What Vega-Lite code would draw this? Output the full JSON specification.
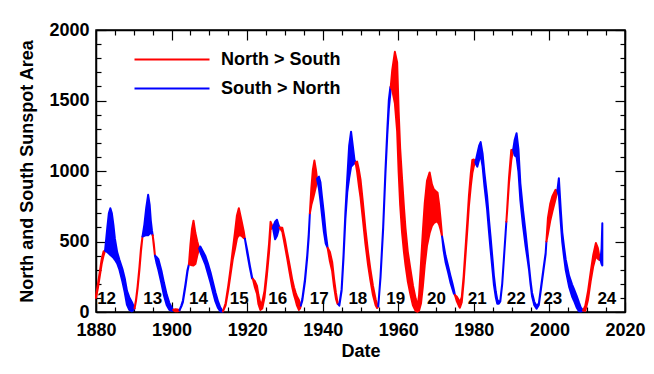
{
  "$schema": "https://vega.github.io/schema/vega-lite/v6.json",
  "width": 529,
  "height": 282,
  "autosize": "none",
  "padding": {"left": 96, "top": 30, "right": 29, "bottom": 62},
  "background": "white",
  "config": {
    "view": {"stroke": "black", "strokeWidth": 1.5},
    "axis": {
      "grid": false,
      "domainColor": "black",
      "domainWidth": 1.5,
      "tickColor": "black",
      "tickWidth": 1.2,
      "labelFont": "Liberation Sans",
      "labelFontWeight": "bold",
      "labelFontSize": 18,
      "labelColor": "black",
      "titleFont": "Liberation Sans",
      "titleFontWeight": "bold",
      "titleFontSize": 18,
      "titleColor": "black",
      "labelFlush": false,
      "labelOverlap": false
    },
    "legend": {
      "symbolType": "stroke", "symbolSize": 5625, "symbolStrokeWidth": 2.2,
      "labelFont": "Liberation Sans", "labelFontWeight": "bold", "labelFontSize": 18,
      "labelColor": "black", "labelOffset": 10, "clipHeight": 29
    }
  },
  "datasets": {
    "cycles": [
      {"cycle": "12", "t": 1882.8, "v": 92},
      {"cycle": "13", "t": 1895.0, "v": 92},
      {"cycle": "14", "t": 1907.1, "v": 92},
      {"cycle": "15", "t": 1917.9, "v": 92},
      {"cycle": "16", "t": 1928.1, "v": 92},
      {"cycle": "17", "t": 1939.1, "v": 92},
      {"cycle": "18", "t": 1949.3, "v": 92},
      {"cycle": "19", "t": 1959.3, "v": 92},
      {"cycle": "20", "t": 1970.1, "v": 92},
      {"cycle": "21", "t": 1980.9, "v": 92},
      {"cycle": "22", "t": 1991.2, "v": 92},
      {"cycle": "23", "t": 2000.9, "v": 92},
      {"cycle": "24", "t": 2015.2, "v": 92}
    ],
    "areas": [
      {"t":1880.0,"N":115,"S":100,"seg":1,"dom":"North > South"},
      {"t":1880.5,"N":195,"S":170,"seg":1,"dom":"North > South"},
      {"t":1881.0,"N":285,"S":255,"seg":1,"dom":"North > South"},
      {"t":1881.5,"N":375,"S":340,"seg":1,"dom":"North > South"},
      {"t":1882.0,"N":430,"S":400,"seg":1,"dom":"North > South"},
      {"t":1882.4,"N":435,"S":435,"seg":1,"dom":"North > South"},

      {"t":1882.4,"N":435,"S":435,"seg":2,"dom":"South > North"},
      {"t":1883.0,"N":425,"S":600,"seg":2,"dom":"South > North"},
      {"t":1883.4,"N":415,"S":700,"seg":2,"dom":"South > North"},
      {"t":1883.8,"N":405,"S":736,"seg":2,"dom":"South > North"},
      {"t":1884.2,"N":395,"S":700,"seg":2,"dom":"South > North"},
      {"t":1884.6,"N":385,"S":620,"seg":2,"dom":"South > North"},
      {"t":1885.0,"N":370,"S":520,"seg":2,"dom":"South > North"},
      {"t":1885.6,"N":345,"S":425,"seg":2,"dom":"South > North"},
      {"t":1886.2,"N":300,"S":370,"seg":2,"dom":"South > North"},
      {"t":1887.0,"N":215,"S":305,"seg":2,"dom":"South > North"},
      {"t":1887.6,"N":140,"S":240,"seg":2,"dom":"South > North"},
      {"t":1888.2,"N":50,"S":150,"seg":2,"dom":"South > North"},
      {"t":1888.8,"N":15,"S":105,"seg":2,"dom":"South > North"},
      {"t":1889.5,"N":5,"S":70,"seg":2,"dom":"South > North"},
      {"t":1890.0,"N":18,"S":38,"seg":2,"dom":"South > North"},
      {"t":1890.2,"N":25,"S":25,"seg":2,"dom":"South > North"},

      {"t":1890.2,"N":25,"S":25,"seg":3,"dom":"North > South"},
      {"t":1890.6,"N":90,"S":80,"seg":3,"dom":"North > South"},
      {"t":1891.0,"N":180,"S":165,"seg":3,"dom":"North > South"},
      {"t":1891.5,"N":320,"S":300,"seg":3,"dom":"North > South"},
      {"t":1891.9,"N":450,"S":430,"seg":3,"dom":"North > South"},
      {"t":1892.3,"N":535,"S":535,"seg":3,"dom":"North > South"},

      {"t":1892.3,"N":535,"S":535,"seg":4,"dom":"South > North"},
      {"t":1892.8,"N":540,"S":620,"seg":4,"dom":"South > North"},
      {"t":1893.3,"N":545,"S":740,"seg":4,"dom":"South > North"},
      {"t":1893.8,"N":545,"S":831,"seg":4,"dom":"South > North"},
      {"t":1894.2,"N":555,"S":760,"seg":4,"dom":"South > North"},
      {"t":1894.5,"N":560,"S":650,"seg":4,"dom":"South > North"},
      {"t":1894.8,"N":555,"S":580,"seg":4,"dom":"South > North"},
      {"t":1895.0,"N":545,"S":545,"seg":4,"dom":"South > North"},

      {"t":1895.0,"N":545,"S":545,"seg":5,"dom":"North > South"},
      {"t":1895.3,"N":485,"S":470,"seg":5,"dom":"North > South"},
      {"t":1895.6,"N":400,"S":400,"seg":5,"dom":"North > South"},

      {"t":1895.6,"N":400,"S":400,"seg":6,"dom":"South > North"},
      {"t":1896.0,"N":350,"S":390,"seg":6,"dom":"South > North"},
      {"t":1896.5,"N":300,"S":375,"seg":6,"dom":"South > North"},
      {"t":1897.3,"N":205,"S":295,"seg":6,"dom":"South > North"},
      {"t":1898.0,"N":115,"S":205,"seg":6,"dom":"South > North"},
      {"t":1898.7,"N":50,"S":125,"seg":6,"dom":"South > North"},
      {"t":1899.4,"N":15,"S":65,"seg":6,"dom":"South > North"},
      {"t":1900.1,"N":8,"S":28,"seg":6,"dom":"South > North"},
      {"t":1900.4,"N":15,"S":15,"seg":6,"dom":"South > North"},

      {"t":1900.4,"N":15,"S":15,"seg":7,"dom":"North > South"},
      {"t":1901.0,"N":20,"S":5,"seg":7,"dom":"North > South"},
      {"t":1901.6,"N":18,"S":5,"seg":7,"dom":"North > South"},
      {"t":1902.1,"N":12,"S":12,"seg":7,"dom":"North > South"},

      {"t":1902.1,"N":12,"S":12,"seg":8,"dom":"South > North"},
      {"t":1902.6,"N":40,"S":48,"seg":8,"dom":"South > North"},
      {"t":1903.0,"N":70,"S":82,"seg":8,"dom":"South > North"},
      {"t":1903.7,"N":188,"S":202,"seg":8,"dom":"South > North"},
      {"t":1904.2,"N":285,"S":297,"seg":8,"dom":"South > North"},
      {"t":1904.6,"N":340,"S":340,"seg":8,"dom":"South > North"},

      {"t":1904.6,"N":340,"S":340,"seg":9,"dom":"North > South"},
      {"t":1905.0,"N":480,"S":335,"seg":9,"dom":"North > South"},
      {"t":1905.4,"N":590,"S":332,"seg":9,"dom":"North > South"},
      {"t":1905.8,"N":647,"S":330,"seg":9,"dom":"North > South"},
      {"t":1906.3,"N":560,"S":340,"seg":9,"dom":"North > South"},
      {"t":1906.8,"N":500,"S":400,"seg":9,"dom":"North > South"},
      {"t":1907.3,"N":450,"S":450,"seg":9,"dom":"North > South"},

      {"t":1907.3,"N":450,"S":450,"seg":10,"dom":"South > North"},
      {"t":1907.6,"N":425,"S":465,"seg":10,"dom":"South > North"},
      {"t":1908.2,"N":385,"S":435,"seg":10,"dom":"South > North"},
      {"t":1908.9,"N":340,"S":400,"seg":10,"dom":"South > North"},
      {"t":1909.6,"N":275,"S":345,"seg":10,"dom":"South > North"},
      {"t":1910.3,"N":210,"S":282,"seg":10,"dom":"South > North"},
      {"t":1911.0,"N":135,"S":205,"seg":10,"dom":"South > North"},
      {"t":1911.6,"N":75,"S":140,"seg":10,"dom":"South > North"},
      {"t":1912.3,"N":28,"S":75,"seg":10,"dom":"South > North"},
      {"t":1912.9,"N":4,"S":32,"seg":10,"dom":"South > North"},
      {"t":1913.4,"N":3,"S":10,"seg":10,"dom":"South > North"},
      {"t":1913.6,"N":5,"S":5,"seg":10,"dom":"South > North"},

      {"t":1913.6,"N":5,"S":5,"seg":11,"dom":"North > South"},
      {"t":1914.3,"N":62,"S":48,"seg":11,"dom":"North > South"},
      {"t":1915.0,"N":185,"S":155,"seg":11,"dom":"North > South"},
      {"t":1915.6,"N":305,"S":265,"seg":11,"dom":"North > South"},
      {"t":1916.2,"N":440,"S":375,"seg":11,"dom":"North > South"},
      {"t":1916.8,"N":570,"S":450,"seg":11,"dom":"North > South"},
      {"t":1917.3,"N":685,"S":520,"seg":11,"dom":"North > South"},
      {"t":1917.8,"N":736,"S":547,"seg":11,"dom":"North > South"},
      {"t":1918.5,"N":650,"S":540,"seg":11,"dom":"North > South"},
      {"t":1919.1,"N":571,"S":524,"seg":11,"dom":"North > South"},
      {"t":1919.4,"N":520,"S":520,"seg":11,"dom":"North > South"},

      {"t":1919.4,"N":520,"S":520,"seg":12,"dom":"South > North"},
      {"t":1920.0,"N":420,"S":440,"seg":12,"dom":"South > North"},
      {"t":1920.7,"N":315,"S":332,"seg":12,"dom":"South > North"},
      {"t":1921.3,"N":238,"S":247,"seg":12,"dom":"South > North"},
      {"t":1921.5,"N":235,"S":235,"seg":12,"dom":"South > North"},

      {"t":1921.5,"N":235,"S":235,"seg":13,"dom":"North > South"},
      {"t":1922.0,"N":220,"S":180,"seg":13,"dom":"North > South"},
      {"t":1922.6,"N":185,"S":130,"seg":13,"dom":"North > South"},
      {"t":1923.0,"N":120,"S":55,"seg":13,"dom":"North > South"},
      {"t":1923.5,"N":60,"S":15,"seg":13,"dom":"North > South"},
      {"t":1924.0,"N":70,"S":25,"seg":13,"dom":"North > South"},
      {"t":1924.6,"N":150,"S":105,"seg":13,"dom":"North > South"},
      {"t":1925.2,"N":305,"S":255,"seg":13,"dom":"North > South"},
      {"t":1925.8,"N":485,"S":425,"seg":13,"dom":"North > South"},
      {"t":1926.2,"N":640,"S":585,"seg":13,"dom":"North > South"},
      {"t":1926.8,"N":600,"S":600,"seg":13,"dom":"North > South"},

      {"t":1926.8,"N":600,"S":600,"seg":14,"dom":"South > North"},
      {"t":1927.4,"N":515,"S":640,"seg":14,"dom":"South > North"},
      {"t":1927.9,"N":540,"S":654,"seg":14,"dom":"South > North"},
      {"t":1928.4,"N":590,"S":610,"seg":14,"dom":"South > North"},
      {"t":1928.6,"N":600,"S":600,"seg":14,"dom":"South > North"},

      {"t":1928.6,"N":600,"S":600,"seg":15,"dom":"North > South"},
      {"t":1929.3,"N":598,"S":570,"seg":15,"dom":"North > South"},
      {"t":1930.0,"N":515,"S":470,"seg":15,"dom":"North > South"},
      {"t":1930.6,"N":425,"S":380,"seg":15,"dom":"North > South"},
      {"t":1931.3,"N":325,"S":270,"seg":15,"dom":"North > South"},
      {"t":1931.9,"N":235,"S":180,"seg":15,"dom":"North > South"},
      {"t":1932.4,"N":175,"S":120,"seg":15,"dom":"North > South"},
      {"t":1932.8,"N":140,"S":85,"seg":15,"dom":"North > South"},
      {"t":1933.2,"N":110,"S":45,"seg":15,"dom":"North > South"},
      {"t":1933.7,"N":85,"S":15,"seg":15,"dom":"North > South"},
      {"t":1934.0,"N":60,"S":25,"seg":15,"dom":"North > South"},
      {"t":1934.2,"N":45,"S":45,"seg":15,"dom":"North > South"},

      {"t":1934.2,"N":45,"S":45,"seg":16,"dom":"South > North"},
      {"t":1934.6,"N":80,"S":92,"seg":16,"dom":"South > North"},
      {"t":1935.3,"N":215,"S":232,"seg":16,"dom":"South > North"},
      {"t":1935.9,"N":385,"S":402,"seg":16,"dom":"South > North"},
      {"t":1936.3,"N":530,"S":552,"seg":16,"dom":"South > North"},
      {"t":1936.6,"N":700,"S":700,"seg":16,"dom":"South > North"},

      {"t":1936.6,"N":700,"S":700,"seg":17,"dom":"North > South"},
      {"t":1937.0,"N":880,"S":760,"seg":17,"dom":"North > South"},
      {"t":1937.4,"N":1010,"S":800,"seg":17,"dom":"North > South"},
      {"t":1937.8,"N":1074,"S":843,"seg":17,"dom":"North > South"},
      {"t":1938.2,"N":1010,"S":890,"seg":17,"dom":"North > South"},
      {"t":1938.5,"N":945,"S":945,"seg":17,"dom":"North > South"},

      {"t":1938.5,"N":945,"S":945,"seg":18,"dom":"South > North"},
      {"t":1939.0,"N":875,"S":960,"seg":18,"dom":"South > North"},
      {"t":1939.4,"N":790,"S":920,"seg":18,"dom":"South > North"},
      {"t":1939.8,"N":690,"S":819,"seg":18,"dom":"South > North"},
      {"t":1940.3,"N":570,"S":700,"seg":18,"dom":"South > North"},
      {"t":1940.8,"N":485,"S":560,"seg":18,"dom":"South > North"},
      {"t":1941.3,"N":455,"S":455,"seg":18,"dom":"South > North"},

      {"t":1941.3,"N":455,"S":455,"seg":19,"dom":"North > South"},
      {"t":1941.9,"N":425,"S":360,"seg":19,"dom":"North > South"},
      {"t":1942.5,"N":355,"S":290,"seg":19,"dom":"North > South"},
      {"t":1943.0,"N":235,"S":180,"seg":19,"dom":"North > South"},
      {"t":1943.5,"N":135,"S":95,"seg":19,"dom":"North > South"},
      {"t":1943.9,"N":72,"S":58,"seg":19,"dom":"North > South"},
      {"t":1944.1,"N":55,"S":55,"seg":19,"dom":"North > South"},

      {"t":1944.1,"N":55,"S":55,"seg":20,"dom":"South > North"},
      {"t":1944.4,"N":45,"S":52,"seg":20,"dom":"South > North"},
      {"t":1945.0,"N":150,"S":162,"seg":20,"dom":"South > North"},
      {"t":1945.5,"N":380,"S":402,"seg":20,"dom":"South > North"},
      {"t":1946.0,"N":660,"S":705,"seg":20,"dom":"South > North"},
      {"t":1946.5,"N":850,"S":950,"seg":20,"dom":"South > North"},
      {"t":1947.0,"N":950,"S":1180,"seg":20,"dom":"South > North"},
      {"t":1947.5,"N":1030,"S":1279,"seg":20,"dom":"South > North"},
      {"t":1948.0,"N":1045,"S":1170,"seg":20,"dom":"South > North"},
      {"t":1948.4,"N":1055,"S":1080,"seg":20,"dom":"South > North"},
      {"t":1948.7,"N":1060,"S":1060,"seg":20,"dom":"South > North"},

      {"t":1948.7,"N":1060,"S":1060,"seg":21,"dom":"North > South"},
      {"t":1949.1,"N":1067,"S":995,"seg":21,"dom":"North > South"},
      {"t":1949.6,"N":1005,"S":890,"seg":21,"dom":"North > South"},
      {"t":1950.0,"N":940,"S":815,"seg":21,"dom":"North > South"},
      {"t":1950.6,"N":785,"S":665,"seg":21,"dom":"North > South"},
      {"t":1951.3,"N":590,"S":485,"seg":21,"dom":"North > South"},
      {"t":1952.0,"N":425,"S":335,"seg":21,"dom":"North > South"},
      {"t":1952.6,"N":305,"S":228,"seg":21,"dom":"North > South"},
      {"t":1953.3,"N":185,"S":120,"seg":21,"dom":"North > South"},
      {"t":1954.0,"N":90,"S":48,"seg":21,"dom":"North > South"},
      {"t":1954.4,"N":55,"S":28,"seg":21,"dom":"North > South"},
      {"t":1954.7,"N":40,"S":40,"seg":21,"dom":"North > South"},

      {"t":1954.7,"N":40,"S":40,"seg":22,"dom":"South > North"},
      {"t":1955.3,"N":245,"S":255,"seg":22,"dom":"South > North"},
      {"t":1956.0,"N":590,"S":605,"seg":22,"dom":"South > North"},
      {"t":1956.6,"N":980,"S":1005,"seg":22,"dom":"South > North"},
      {"t":1957.1,"N":1260,"S":1295,"seg":22,"dom":"South > North"},
      {"t":1957.5,"N":1440,"S":1505,"seg":22,"dom":"South > North"},
      {"t":1957.9,"N":1550,"S":1595,"seg":22,"dom":"South > North"},
      {"t":1958.0,"N":1595,"S":1595,"seg":22,"dom":"South > North"},

      {"t":1958.0,"N":1595,"S":1595,"seg":23,"dom":"North > South"},
      {"t":1958.4,"N":1716,"S":1574,"seg":23,"dom":"North > South"},
      {"t":1959.1,"N":1845,"S":1480,"seg":23,"dom":"North > South"},
      {"t":1959.7,"N":1770,"S":1280,"seg":23,"dom":"North > South"},
      {"t":1960.1,"N":1420,"S":990,"seg":23,"dom":"North > South"},
      {"t":1960.5,"N":1160,"S":760,"seg":23,"dom":"North > South"},
      {"t":1961.0,"N":945,"S":565,"seg":23,"dom":"North > South"},
      {"t":1961.5,"N":740,"S":425,"seg":23,"dom":"North > South"},
      {"t":1961.9,"N":595,"S":335,"seg":23,"dom":"North > South"},
      {"t":1962.5,"N":430,"S":220,"seg":23,"dom":"North > South"},
      {"t":1963.2,"N":305,"S":125,"seg":23,"dom":"North > South"},
      {"t":1963.9,"N":185,"S":45,"seg":23,"dom":"North > South"},
      {"t":1964.6,"N":95,"S":6,"seg":23,"dom":"North > South"},
      {"t":1965.1,"N":40,"S":2,"seg":23,"dom":"North > South"},
      {"t":1965.5,"N":120,"S":10,"seg":23,"dom":"North > South"},
      {"t":1966.0,"N":340,"S":60,"seg":23,"dom":"North > South"},
      {"t":1966.5,"N":570,"S":180,"seg":23,"dom":"North > South"},
      {"t":1967.0,"N":770,"S":330,"seg":23,"dom":"North > South"},
      {"t":1967.6,"N":930,"S":470,"seg":23,"dom":"North > South"},
      {"t":1968.3,"N":990,"S":560,"seg":23,"dom":"North > South"},
      {"t":1968.9,"N":905,"S":610,"seg":23,"dom":"North > South"},
      {"t":1969.4,"N":870,"S":630,"seg":23,"dom":"North > South"},
      {"t":1970.0,"N":855,"S":640,"seg":23,"dom":"North > South"},
      {"t":1970.4,"N":845,"S":640,"seg":23,"dom":"North > South"},
      {"t":1970.8,"N":765,"S":620,"seg":23,"dom":"North > South"},
      {"t":1971.2,"N":655,"S":583,"seg":23,"dom":"North > South"},
      {"t":1971.6,"N":535,"S":535,"seg":23,"dom":"North > South"},

      {"t":1971.6,"N":535,"S":535,"seg":24,"dom":"South > North"},
      {"t":1972.0,"N":435,"S":475,"seg":24,"dom":"South > North"},
      {"t":1972.5,"N":355,"S":400,"seg":24,"dom":"South > North"},
      {"t":1973.2,"N":280,"S":325,"seg":24,"dom":"South > North"},
      {"t":1973.8,"N":210,"S":257,"seg":24,"dom":"South > North"},
      {"t":1974.3,"N":165,"S":205,"seg":24,"dom":"South > North"},
      {"t":1974.7,"N":132,"S":160,"seg":24,"dom":"South > North"},
      {"t":1975.0,"N":120,"S":120,"seg":24,"dom":"South > North"},

      {"t":1975.0,"N":120,"S":120,"seg":25,"dom":"North > South"},
      {"t":1975.5,"N":108,"S":75,"seg":25,"dom":"North > South"},
      {"t":1976.0,"N":85,"S":45,"seg":25,"dom":"North > South"},
      {"t":1976.3,"N":68,"S":30,"seg":25,"dom":"North > South"},
      {"t":1976.8,"N":105,"S":70,"seg":25,"dom":"North > South"},
      {"t":1977.3,"N":255,"S":215,"seg":25,"dom":"North > South"},
      {"t":1977.8,"N":455,"S":405,"seg":25,"dom":"North > South"},
      {"t":1978.3,"N":655,"S":595,"seg":25,"dom":"North > South"},
      {"t":1978.7,"N":825,"S":755,"seg":25,"dom":"North > South"},
      {"t":1979.2,"N":985,"S":895,"seg":25,"dom":"North > South"},
      {"t":1979.6,"N":1079,"S":985,"seg":25,"dom":"North > South"},
      {"t":1980.0,"N":1082,"S":1035,"seg":25,"dom":"North > South"},
      {"t":1980.4,"N":1060,"S":1060,"seg":25,"dom":"North > South"},

      {"t":1980.4,"N":1060,"S":1060,"seg":26,"dom":"South > North"},
      {"t":1980.9,"N":1031,"S":1120,"seg":26,"dom":"South > North"},
      {"t":1981.4,"N":1080,"S":1180,"seg":26,"dom":"South > North"},
      {"t":1981.8,"N":1115,"S":1205,"seg":26,"dom":"South > North"},
      {"t":1982.3,"N":1035,"S":1125,"seg":26,"dom":"South > North"},
      {"t":1982.8,"N":895,"S":985,"seg":26,"dom":"South > North"},
      {"t":1983.5,"N":730,"S":822,"seg":26,"dom":"South > North"},
      {"t":1984.0,"N":570,"S":655,"seg":26,"dom":"South > North"},
      {"t":1984.4,"N":450,"S":540,"seg":26,"dom":"South > North"},
      {"t":1985.0,"N":280,"S":355,"seg":26,"dom":"South > North"},
      {"t":1985.3,"N":195,"S":258,"seg":26,"dom":"South > North"},
      {"t":1985.8,"N":105,"S":145,"seg":26,"dom":"South > North"},
      {"t":1986.2,"N":58,"S":88,"seg":26,"dom":"South > North"},
      {"t":1986.6,"N":58,"S":70,"seg":26,"dom":"South > North"},
      {"t":1987.0,"N":75,"S":82,"seg":26,"dom":"South > North"},
      {"t":1987.5,"N":195,"S":202,"seg":26,"dom":"South > North"},
      {"t":1988.0,"N":395,"S":402,"seg":26,"dom":"South > North"},
      {"t":1988.4,"N":555,"S":562,"seg":26,"dom":"South > North"},
      {"t":1988.6,"N":640,"S":640,"seg":26,"dom":"South > North"},

      {"t":1988.6,"N":640,"S":640,"seg":27,"dom":"North > South"},
      {"t":1988.8,"N":724,"S":712,"seg":27,"dom":"North > South"},
      {"t":1989.3,"N":950,"S":915,"seg":27,"dom":"North > South"},
      {"t":1989.9,"N":1149,"S":1075,"seg":27,"dom":"North > South"},
      {"t":1990.3,"N":1150,"S":1140,"seg":27,"dom":"North > South"},
      {"t":1990.4,"N":1150,"S":1150,"seg":27,"dom":"North > South"},

      {"t":1990.4,"N":1150,"S":1150,"seg":28,"dom":"South > North"},
      {"t":1990.8,"N":1110,"S":1220,"seg":28,"dom":"South > North"},
      {"t":1991.3,"N":1100,"S":1268,"seg":28,"dom":"South > North"},
      {"t":1991.8,"N":995,"S":1155,"seg":28,"dom":"South > North"},
      {"t":1992.3,"N":795,"S":915,"seg":28,"dom":"South > North"},
      {"t":1993.0,"N":615,"S":725,"seg":28,"dom":"South > North"},
      {"t":1993.7,"N":465,"S":562,"seg":28,"dom":"South > North"},
      {"t":1994.2,"N":375,"S":432,"seg":28,"dom":"South > North"},
      {"t":1994.6,"N":298,"S":325,"seg":28,"dom":"South > North"},
      {"t":1995.0,"N":198,"S":222,"seg":28,"dom":"South > North"},
      {"t":1995.4,"N":112,"S":137,"seg":28,"dom":"South > North"},
      {"t":1996.0,"N":48,"S":72,"seg":28,"dom":"South > North"},
      {"t":1996.6,"N":24,"S":42,"seg":28,"dom":"South > North"},
      {"t":1997.2,"N":50,"S":62,"seg":28,"dom":"South > North"},
      {"t":1997.8,"N":170,"S":182,"seg":28,"dom":"South > North"},
      {"t":1998.4,"N":290,"S":302,"seg":28,"dom":"South > North"},
      {"t":1999.0,"N":410,"S":420,"seg":28,"dom":"South > North"},
      {"t":1999.2,"N":500,"S":500,"seg":28,"dom":"South > North"},

      {"t":1999.2,"N":500,"S":500,"seg":29,"dom":"North > South"},
      {"t":1999.6,"N":665,"S":555,"seg":29,"dom":"North > South"},
      {"t":2000.2,"N":765,"S":645,"seg":29,"dom":"North > South"},
      {"t":2000.8,"N":822,"S":715,"seg":29,"dom":"North > South"},
      {"t":2001.6,"N":866,"S":800,"seg":29,"dom":"North > South"},
      {"t":2002.0,"N":860,"S":848,"seg":29,"dom":"North > South"},
      {"t":2002.1,"N":860,"S":860,"seg":29,"dom":"North > South"},

      {"t":2002.1,"N":860,"S":860,"seg":30,"dom":"South > North"},
      {"t":2002.5,"N":825,"S":949,"seg":30,"dom":"South > North"},
      {"t":2003.0,"N":635,"S":725,"seg":30,"dom":"South > North"},
      {"t":2003.4,"N":495,"S":565,"seg":30,"dom":"South > North"},
      {"t":2003.9,"N":382,"S":455,"seg":30,"dom":"South > North"},
      {"t":2004.3,"N":300,"S":375,"seg":30,"dom":"South > North"},
      {"t":2005.2,"N":180,"S":258,"seg":30,"dom":"South > North"},
      {"t":2006.0,"N":110,"S":195,"seg":30,"dom":"South > North"},
      {"t":2006.5,"N":80,"S":162,"seg":30,"dom":"South > North"},
      {"t":2007.2,"N":32,"S":115,"seg":30,"dom":"South > North"},
      {"t":2007.8,"N":6,"S":68,"seg":30,"dom":"South > North"},
      {"t":2008.3,"N":3,"S":32,"seg":30,"dom":"South > North"},
      {"t":2008.7,"N":6,"S":18,"seg":30,"dom":"South > North"},
      {"t":2008.9,"N":10,"S":10,"seg":30,"dom":"South > North"},

      {"t":2008.9,"N":10,"S":10,"seg":31,"dom":"North > South"},
      {"t":2009.5,"N":45,"S":8,"seg":31,"dom":"North > South"},
      {"t":2010.2,"N":145,"S":85,"seg":31,"dom":"North > South"},
      {"t":2010.9,"N":280,"S":215,"seg":31,"dom":"North > South"},
      {"t":2011.6,"N":405,"S":325,"seg":31,"dom":"North > South"},
      {"t":2012.3,"N":489,"S":395,"seg":31,"dom":"North > South"},
      {"t":2012.8,"N":455,"S":378,"seg":31,"dom":"North > South"},
      {"t":2013.3,"N":382,"S":368,"seg":31,"dom":"North > South"},
      {"t":2013.5,"N":370,"S":370,"seg":31,"dom":"North > South"},

      {"t":2013.5,"N":370,"S":370,"seg":32,"dom":"South > North"},
      {"t":2013.8,"N":340,"S":450,"seg":32,"dom":"South > North"},
      {"t":2014.0,"N":330,"S":630,"seg":32,"dom":"South > North"}
    ]
  },
  "layer": [
    {
      "data": {"name": "areas"},
      "mark": {"type": "area", "strokeWidth": 2, "strokeJoin": "round", "fillOpacity": 1},
      "encoding": {
        "x": {
          "field": "t", "type": "quantitative",
          "scale": {"domain": [1880, 2020], "nice": false, "zero": false},
          "axis": {
            "orient": "bottom", "title": "Date", "format": "d",
            "values": [1880,1885,1890,1895,1900,1905,1910,1915,1920,1925,1930,1935,1940,1945,1950,1955,1960,1965,1970,1975,1980,1985,1990,1995,2000,2005,2010,2015,2020],
            "labelExpr": "datum.value % 20 === 0 ? datum.label : ''",
            "tickSize": {"condition": {"test": "datum.value % 20 === 0", "value": -10}, "value": -5},
            "labelPadding": 19,
            "titlePadding": -2
          }
        },
        "y": {
          "field": "N", "type": "quantitative",
          "scale": {"domain": [0, 2000], "nice": false},
          "axis": {
            "orient": "left", "title": "North and South Sunspot Area", "format": "d",
            "values": [0,100,200,300,400,500,600,700,800,900,1000,1100,1200,1300,1400,1500,1600,1700,1800,1900,2000],
            "labelExpr": "datum.value % 500 === 0 ? datum.label : ''",
            "tickSize": {"condition": {"test": "datum.value % 500 === 0", "value": -10}, "value": -5},
            "labelPadding": 17,
            "titlePadding": 12
          }
        },
        "y2": {"field": "S"},
        "detail": {"field": "seg", "type": "nominal"},
        "fill": {
          "field": "dom", "type": "nominal",
          "scale": {"domain": ["North > South", "South > North"], "range": ["#ff0000", "#0000ff"]},
          "legend": {"title": null, "orient": "none", "legendX": 37, "legendY": 15, "rowPadding": 0}
        },
        "stroke": {
          "field": "dom", "type": "nominal",
          "scale": {"domain": ["North > South", "South > North"], "range": ["#ff0000", "#0000ff"]},
          "legend": {"title": null, "orient": "none", "legendX": 37, "legendY": 15, "rowPadding": 0}
        }
      }
    },
    {
      "data": {"name": "cycles"},
      "mark": {"type": "text", "font": "Liberation Sans", "fontWeight": "bold", "fontSize": 17, "color": "black", "baseline": "middle", "align": "center"},
      "encoding": {
        "x": {
          "field": "t", "type": "quantitative",
          "scale": {"domain": [1880, 2020], "nice": false, "zero": false},
          "axis": {
            "orient": "top", "title": null, "labels": false,
            "values": [1880,1885,1890,1895,1900,1905,1910,1915,1920,1925,1930,1935,1940,1945,1950,1955,1960,1965,1970,1975,1980,1985,1990,1995,2000,2005,2010,2015,2020],
            "tickSize": {"condition": {"test": "datum.value % 20 === 0", "value": -10}, "value": -5}
          }
        },
        "y": {
          "field": "v", "type": "quantitative",
          "scale": {"domain": [0, 2000], "nice": false},
          "axis": {
            "orient": "right", "title": null, "labels": false,
            "values": [0,100,200,300,400,500,600,700,800,900,1000,1100,1200,1300,1400,1500,1600,1700,1800,1900,2000],
            "tickSize": {"condition": {"test": "datum.value % 500 === 0", "value": -10}, "value": -5}
          }
        },
        "text": {"field": "cycle"}
      }
    }
  ],
  "resolve": {"axis": {"x": "independent", "y": "independent"}}
}
